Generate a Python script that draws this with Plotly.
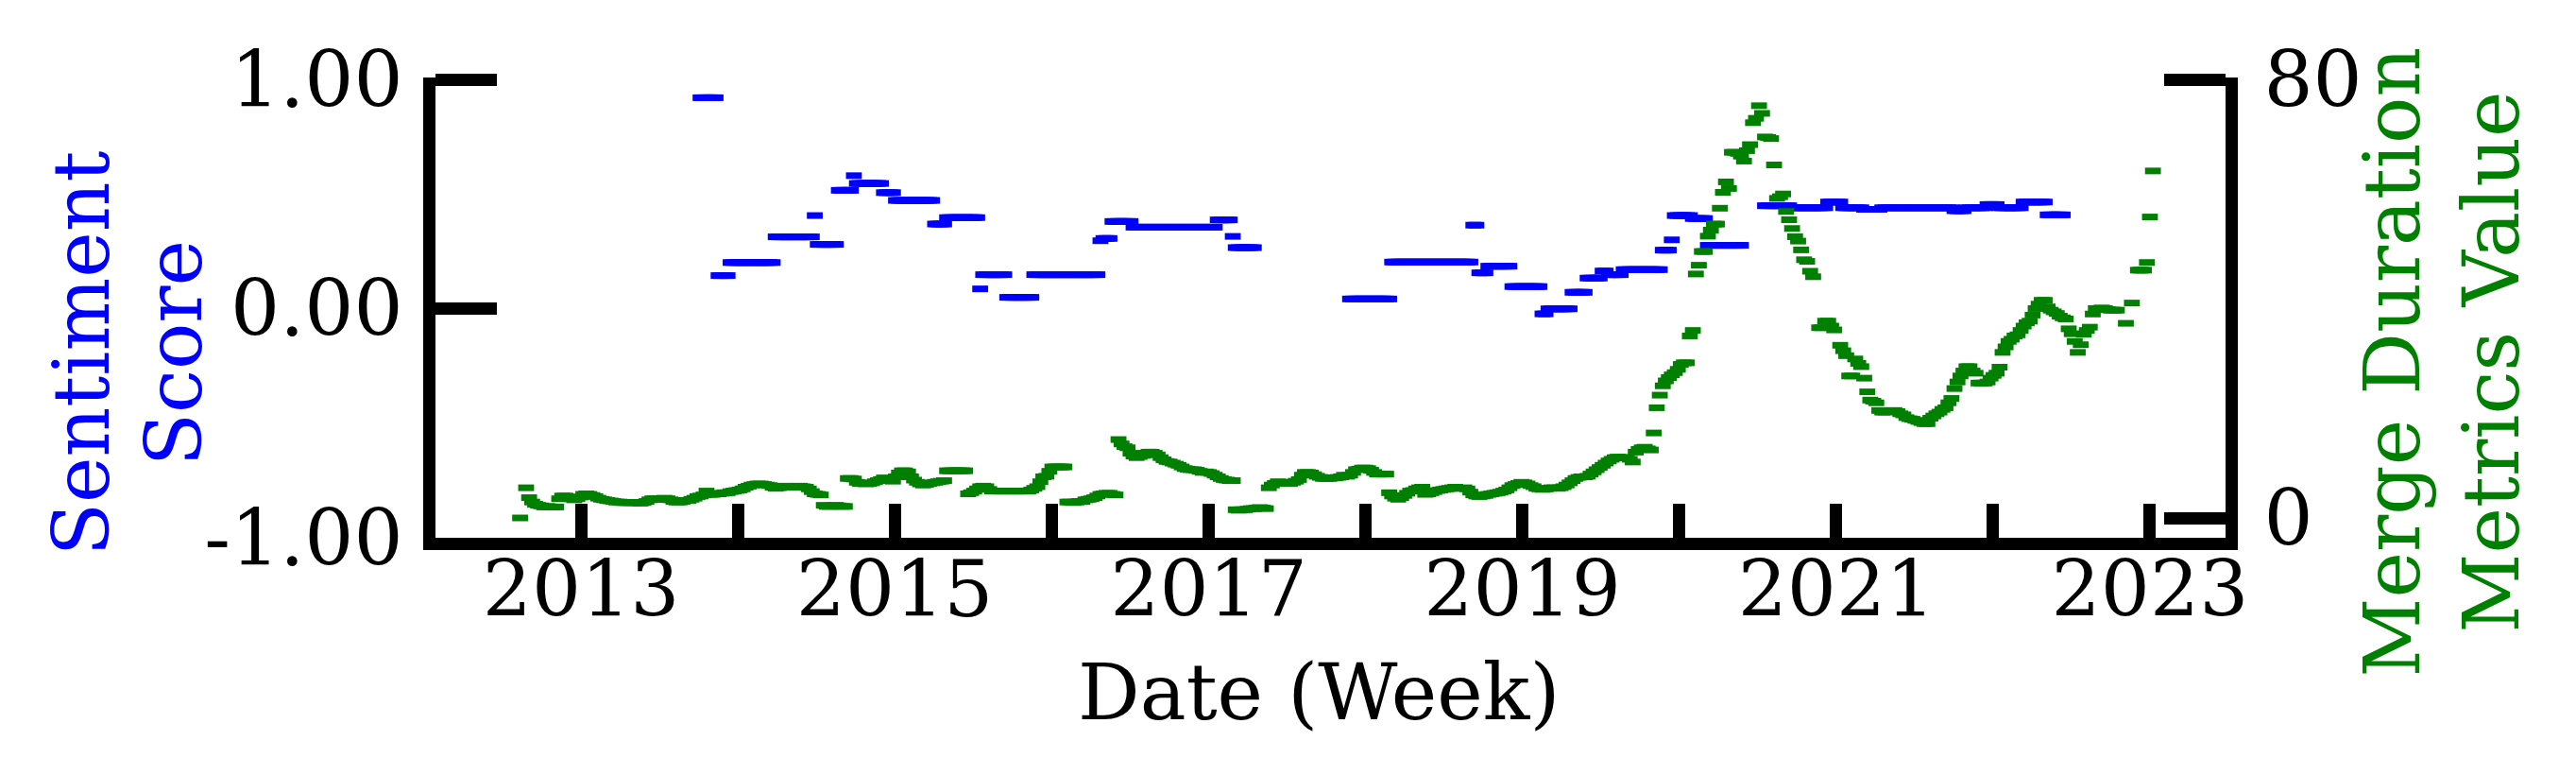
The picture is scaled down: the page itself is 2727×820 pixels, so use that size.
import pandas as pd
import plotly.graph_objects as go

# weekly series, first week of data
week_start = "2012-08-12"

# sentiment score as runs of (value, number of weeks); None = no data
sentiment_runs = [
    (None, 60), (0.92, 6), (0.144, 4), (0.201, 15), (0.313, 13), (0.406, 1),
    (0.28, 7), (0.516, 5), (0.58, 1), (0.546, 9), (0.506, 4), (0.472, 13),
    (0.369, 4), (0.397, 11), (0.086, 1), (0.148, 8), (0.049, 9), (0.148, 22),
    (0.296, 1), (0.306, 3), (0.38, 7), (0.355, 28), (0.387, 5), (0.315, 1),
    (0.266, 7), (None, 31), (0.042, 14), (0.203, 27), (0.364, 2), (0.156, 3),
    (0.185, 8), (0.096, 10), (-0.023, 2), (-0.001, 8), (0.071, 5), (0.133, 5),
    (0.164, 2), (0.148, 5), (0.17, 13), (0.255, 3), (0.30, 1), (0.406, 6),
    (0.393, 5), (0.276, 12), (None, 7), (0.449, 9), (0.44, 12), (0.465, 5),
    (0.44, 7), (0.433, 6), (0.44, 24), (0.427, 4), (0.44, 7), (0.454, 4),
    (0.44, 8), (0.465, 8), (0.409, 6),
]

# merge duration metric, one value per week
merge_duration = [
    0.0, None, 5.5, 3.7, 2.9, 2.5, 2.3, 2.2, 2.0, 2.1,
    2.0, 2.0, 2.0, 3.5, 4.0, 4.0, 3.8, 3.5, 3.3, 3.5,
    3.8, 4.3, 4.4, 4.3, 4.1, 3.9, 3.6, 3.4, 3.3, 3.2,
    3.1, 3.0, 2.9, 2.9, 2.8, 2.8, 2.8, 2.8, 2.8, 2.8,
    2.7, 2.8, 3.0, 3.3, 3.5, 3.5, 3.4, 3.4, 3.6, 3.5,
    3.3, 3.0, 2.9, 2.9, 3.0, 3.2, 3.2, 3.4, 3.6, 3.9,
    4.0, 4.2, 4.9, 4.3, 4.3, 4.4, 4.4, 4.5, 4.6, 4.6,
    4.8, 4.9, 5.0, 5.1, 5.3, 5.6, 5.8, 6.0, 6.1, 6.2,
    6.2, 6.1, 6.0, 5.9, 5.6, 5.4, 5.5, 5.7, 5.8, 5.7,
    5.7, 5.6, 5.7, 5.8, 5.7, 5.6, 5.3, 4.8, 4.4, 4.3,
    4.2, 2.3, 2.1, 2.1, 2.2, 2.3, 2.2, 2.1, 2.1, 7.2,
    7.2, 7.1, 6.5, 6.3, 6.3, 6.2, 6.3, 6.4, 6.6, 6.8,
    7.0, 7.3, 7.2, 6.9, 6.7, 7.5, 8.2, 8.6, 8.6, 8.4,
    7.5, 6.9, 6.5, 6.2, 6.0, 6.1, 6.3, 6.4, 6.5, 6.6,
    6.7, 6.8, 8.6, 8.6, 8.6, 8.6, 8.6, 8.6, 8.6, 4.4,
    4.6, 4.9, 5.3, 5.7, 5.8, 5.7, 5.2, 4.9, 4.9, 4.9,
    4.9, 4.9, 4.9, 4.9, 4.9, 4.9, 4.9, 4.9, 4.9, 4.9,
    5.1, 5.4, 5.7, 6.6, 7.5, 7.6, 8.5, 9.3, 9.3, 9.3,
    9.3, 9.3, 2.9, 2.9, 2.8, 2.9, 3.0, 3.0, 3.3, 3.4,
    3.5, 3.7, 4.0, 4.3, 4.4, 4.5, 4.5, 4.3, 4.2, 14.3,
    13.5, 13.0, 12.8, 11.8, 11.3, 11.0, 11.2, 11.4, 11.8, 12.0,
    12.0, 11.8, 11.5, 11.0, 10.6, 10.3, 10.2, 10.0, 9.8, 9.6,
    9.3, 9.0, 8.9, 8.8, 8.8, 8.7, 8.5, 8.3, 8.4, 8.3,
    8.1, 7.8, 7.5, 7.2, 7.0, 6.9, 6.8, 6.8, 1.5, 1.4,
    1.5, 1.5, 1.6, 1.7, 1.7, 1.8, 1.9, 1.8, 1.7, 5.5,
    6.0, 6.3, 6.6, 6.5, 6.4, 6.4, 6.3, 6.5, 6.7, 7.0,
    7.8, 8.3, 8.3, 8.2, 7.9, 7.6, 7.4, 7.2, 7.2, 7.2,
    7.3, 7.3, 7.4, 7.5, 7.8, 7.6, 7.8, 8.3, 8.8, 8.9,
    9.1, 9.1, 9.0, 8.7, 8.3, 8.0, 8.0, 8.0, 8.0, 4.6,
    4.0, 3.6, 3.4, 3.7, 4.1, 4.5, 4.9, 5.0, 5.3, 5.5,
    5.6, 4.3, 4.4, 4.6, 4.8, 5.0, 5.1, 5.2, 5.3, 5.4,
    5.5, 5.6, 5.4, 5.4, 5.5, 5.3, 4.7, 4.2, 4.0, 3.9,
    4.0, 4.1, 4.3, 4.4, 4.5, 4.6, 4.7, 4.9, 5.1, 5.5,
    5.9, 6.1, 6.3, 6.5, 6.4, 6.2, 5.9, 5.7, 5.4, 5.3,
    5.2, 5.3, 5.4, 5.5, 5.5, 5.4, 5.5, 5.7, 6.0, 6.4,
    6.8, 7.2, 7.4, 7.5, 7.5, 7.6, 8.0, 8.4, 8.8, 9.2,
    9.6, 10.0, 10.4, 10.7, 11.0, 11.1, 11.0, 11.0, 11.0, 10.7,
    10.2, 12.0, 12.5, 12.8, 12.9, 12.6, 12.4, 15.5, 20.1, 22.4,
    24.1, 25.0, 25.6, 26.1, 26.5, 27.1, 28.0, 28.3, 28.3, 33.2,
    34.2, 44.5, 46.1, 48.6, 48.6, 51.4, 52.5, 53.6, 53.6, 56.5,
    59.4, 61.3, 60.1, 66.7, 66.7, 66.5, 66.0, 65.1, 67.0, 68.1,
    72.1, 72.9, 75.2, 73.8, 69.5, 69.4, 69.2, 64.4, 58.3, 58.6,
    59.1, 55.9, 54.4, 52.8, 51.3, 50.5, 48.9, 47.1, 46.8, 45.0,
    44.0, None, 34.7, 34.7, 35.9, 35.9, 35.0, 34.3, None, 31.5,
    30.5, 29.6, 25.9, 25.9, 29.0, 28.2, 27.6, 25.5, 23.0, 21.5,
    21.3, 21.0, 19.6, 19.3, 19.3, 19.4, 19.5, 19.6, 19.4, 19.0,
    18.8, 18.3, 18.1, 18.0, 17.8, 17.6, 17.4, 17.2, 17.2, 18.2,
    18.6, 19.0, 19.3, 19.8, 20.1, 21.0, 21.8, 23.6, 24.8, 25.9,
    26.8, 27.6, 27.6, 26.8, 26.4, 24.6, 24.6, 24.6, 24.8, 25.5,
    26.0, 26.4, 27.5, 30.2, 31.2, 32.2, 32.6, 33.2, 33.4, 34.2,
    35.0, 35.6, 35.9, 37.0, 38.2, 39.0, 39.7, 39.7, 38.5, 37.9,
    37.6, 37.3, 36.8, 36.5, 36.3, 34.5, 33.6, 32.2, 30.2, 31.6,
    33.5, 34.2, 34.8, 37.2, 38.2, 38.2, 38.3, 38.2, 38.0, 37.9,
    37.9, 37.9, None, None, 35.5, None, 39.2, None, 45.2, 45.2,
    45.2, 46.6, 54.9, 63.3,
]

year_ticks = [f"{y}-01-01" for y in range(2013, 2024)]
year_labels = [str(y) if y % 2 else "" for y in range(2013, 2024)]

weeks = pd.date_range(week_start, periods=len(merge_duration), freq="7D")
sentiment = []
for value, n in sentiment_runs:
    sentiment += [value] * n
sentiment += [None] * (len(weeks) - len(sentiment))

BLUE = "#0000ff"
GREEN = "#008000"
FONT = "DejaVu Serif"
FS = 82

fig = go.Figure()
fig.add_trace(go.Scatter(
    x=weeks, y=sentiment, mode="markers", name="Sentiment Score",
    marker=dict(symbol="line-ew", size=12, color=BLUE, line=dict(width=7, color=BLUE)),
))
fig.add_trace(go.Scatter(
    x=weeks, y=merge_duration, mode="markers", name="Merge Duration Metrics Value",
    yaxis="y2",
    marker=dict(symbol="line-ew", size=12, color=GREEN, line=dict(width=7, color=GREEN)),
))

axis_common = dict(showline=True, linewidth=13, linecolor="black", ticks="inside",
                   tickwidth=13, tickcolor="black", showgrid=False, zeroline=False)

# top of both y ranges nudged by 2px so the top ticks are not clipped
fig.update_layout(
    width=2727, height=820,
    margin=dict(l=453, r=379, t=74, b=259),
    paper_bgcolor="white", plot_bgcolor="white",
    showlegend=False,
    font=dict(family=FONT, size=FS, color="black"),
    xaxis=dict(type="date", range=["2012-01-28", "2023-06-26"],
               tickvals=year_ticks, ticktext=year_labels, ticklen=36,
               ticklabelstandoff=-28, **axis_common),
    yaxis=dict(range=[-1, 1.00825], tickvals=[-1, 0, 1], ticktext=["-1.00", "0.00", "1.00"],
               ticklen=65, ticklabelstandoff=5, **axis_common),
    yaxis2=dict(range=[-3.62, 80.345], tickvals=[0, 80], ticktext=["0", "80"],
                overlaying="y", side="right", ticklen=65, ticklabelstandoff=11,
                **axis_common),
)

titles = [
    ("Sentiment", -0.1979, 0.402, BLUE),
    ("Score", -0.1462, 0.402, BLUE),
    ("Merge Duration", 1.0929, 0.381, GREEN),
    ("Metrics Value", 1.1483, 0.381, GREEN),
]
for text, x, y, color in titles:
    fig.add_annotation(text=text, x=x, y=y, xref="paper", yref="paper",
                       textangle=-90, showarrow=False, xanchor="center", yanchor="middle",
                       font=dict(family=FONT, size=FS, color=color))
fig.add_annotation(text="Date (Week)", x=0.4939, y=-0.336, xref="paper", yref="paper",
                   showarrow=False, xanchor="center", yanchor="middle",
                   font=dict(family=FONT, size=FS, color="black"))

fig.write_html("out.html")
